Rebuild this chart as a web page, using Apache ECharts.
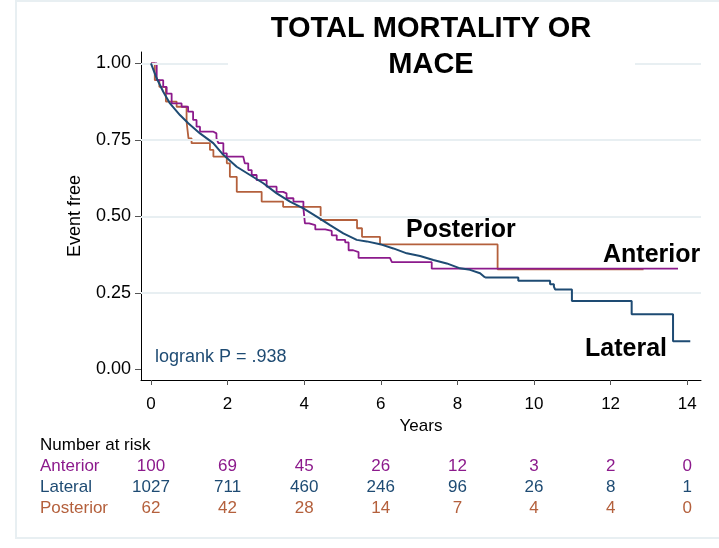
<!DOCTYPE html>
<html><head><meta charset="utf-8">
<script src="https://cdn.jsdelivr.net/npm/echarts@6/dist/echarts.min.js"></script>
<style>html,body{margin:0;padding:0;background:#fff}#c{width:719px;height:548px}</style>
</head><body><div id="c"></div>
<script>
// ---- data ----
const yearTicks = [0, 2, 4, 6, 8, 10, 12, 14];
const yTicks = [0, 0.25, 0.5, 0.75, 1];
const anterior = [[0,1],[0.15,0.945],[0.32,0.923],[0.41,0.901],[0.54,0.869],[0.80,0.858],[0.97,0.842],[1.10,0.815],[1.19,0.793],[1.28,0.777],[1.62,0.771],[1.71,0.755],[1.76,0.739],[1.89,0.706],[1.98,0.695],[2.41,0.690],[2.45,0.673],[2.54,0.651],[2.63,0.635],[2.76,0.618],[3.02,0.597],[3.28,0.580],[3.45,0.575],[3.54,0.559],[3.72,0.548],[3.98,0.526],[4.02,0.477],[4.13,0.471],[4.29,0.457],[4.55,0.452],[4.72,0.438],[4.85,0.423],[5.07,0.415],[5.16,0.389],[5.28,0.383],[5.42,0.364],[6.24,0.361],[6.29,0.350],[7.33,0.329],[13.76,0.329]];
const lateralEarly = [[0,1],[0.149,0.951],[0.321,0.907],[0.496,0.869],[0.757,0.831],[0.974,0.804],[1.28,0.771],[1.627,0.739],[1.888,0.701],[2.238,0.662],[2.586,0.635],[2.933,0.608],[3.283,0.575],[3.63,0.548],[3.978,0.526],[4.327,0.499],[4.675,0.471],[5.022,0.444],[5.372,0.423],[5.633,0.418],[5.981,0.409],[6.328,0.395],[6.678,0.379],[7.025,0.370],[7.373,0.357],[7.723,0.346],[8.07,0.330],[8.331,0.325],[8.592,0.314],[8.723,0.300]];
const lateralLate = [[8.723,0.300],[9.59,0.289],[10.42,0.278],[10.52,0.270],[10.55,0.261],[10.99,0.223],[12.55,0.180],[13.63,0.092],[14.08,0.092]];
const posterior = [[0,1],[0.10,0.945],[0.22,0.923],[0.39,0.875],[0.67,0.858],[0.93,0.809],[0.98,0.755],[1.06,0.739],[1.54,0.717],[1.63,0.695],[1.98,0.673],[2.06,0.629],[2.24,0.580],[2.89,0.548],[3.45,0.531],[4.43,0.488],[5.38,0.461],[5.51,0.433],[5.98,0.408],[9.05,0.327],[12.86,0.327]];
const riskGroups = ['Anterior', 'Lateral', 'Posterior'];
const riskAnterior = [100, 69, 45, 26, 12, 3, 2, 0];
const riskLateral = [1027, 711, 460, 246, 96, 26, 8, 1];
const riskPosterior = [62, 42, 28, 14, 7, 4, 4, 0];

// ---- styles ----
const FONT = '"Liberation Sans", Arial, sans-serif';
const C_ANT = '#8c1a8c', C_LAT = '#1e4b73', C_POS = '#b4603c';
const GRIDC = '#e8eff2';

const chart = echarts.init(document.getElementById('c'), null, {renderer: 'canvas'});
chart.setOption({
  animation: false,
  backgroundColor: '#fff',
  grid: {left: 141, right: 18, top: 52, bottom: 168, containLabel: false},
  xAxis: {
    type: 'value', min: -0.26, max: 14.36,
    name: 'Years', nameLocation: 'middle', nameGap: 33,
    nameTextStyle: {fontFamily: FONT, fontSize: 17, color: '#000'},
    axisLine: {show: true, onZero: false, lineStyle: {color: '#000', width: 1}},
    axisTick: {show: true, length: 5, lineStyle: {color: '#555'}, customValues: yearTicks},
    axisLabel: {fontFamily: FONT, fontSize: 17, color: '#000', margin: 16, customValues: yearTicks},
    splitLine: {show: false}
  },
  yAxis: {
    type: 'value', min: -0.035, max: 1.037,
    name: 'Event free', nameLocation: 'middle', nameGap: 57,
    nameTextStyle: {fontFamily: FONT, fontSize: 18, color: '#000'},
    axisLine: {show: true, onZero: false, lineStyle: {color: '#000', width: 1}},
    axisTick: {show: true, length: 6, lineStyle: {color: '#555'}, customValues: yTicks},
    axisLabel: {fontFamily: FONT, fontSize: 18, color: '#000', margin: 10, customValues: yTicks,
      formatter: v => v.toFixed(2)},
    splitLine: {show: false}
  },
  series: [
    {type: 'line', data: [], z: 1, silent: true,
     markLine: {silent: true, symbol: 'none', label: {show: false},
       lineStyle: {color: GRIDC, width: 2, type: 'solid'},
       data: yTicks.filter(v => v > 0).map(v => ({yAxis: v}))}},
    {name: 'Posterior', type: 'line', step: 'end', data: posterior, showSymbol: false, z: 3,
     lineStyle: {color: C_POS, width: 1.8}},
    {name: 'Anterior', type: 'line', step: 'end', data: anterior, showSymbol: false, z: 4,
     lineStyle: {color: C_ANT, width: 1.8}},
    {name: 'Lateral', type: 'line', data: lateralEarly, showSymbol: false, z: 5,
     lineStyle: {color: C_LAT, width: 2}},
    {name: 'Lateral', type: 'line', step: 'end', data: lateralLate, showSymbol: false, z: 5,
     lineStyle: {color: C_LAT, width: 2}}
  ]
});

// ---- graphics: title, labels and risk table ----
const px = v => chart.convertToPixel({xAxisIndex: 0}, v);
const g = [];
g.push({type: 'rect', silent: true, z: 0, shape: {x: 16, y: 1, width: 740, height: 537},
  style: {fill: 'none', stroke: GRIDC, lineWidth: 2}});
g.push({type: 'rect', silent: true, z: 50, shape: {x: 228, y: 5, width: 407, height: 80},
  style: {fill: '#fff'}});
const txt = (text, x, y, opts) => g.push(Object.assign({type: 'text', silent: true, z: 60, x: x, y: y,
  style: Object.assign({text: text, font: '17px ' + FONT, fill: '#000', textAlign: 'left', textVerticalAlign: 'middle'}, opts || {})}));
txt('TOTAL MORTALITY OR', 431, 29, {font: 'bold 29px ' + FONT, textAlign: 'center'});
txt('MACE', 431, 65, {font: 'bold 29px ' + FONT, textAlign: 'center'});
txt('Posterior', 406, 230, {font: 'bold 25px ' + FONT});
txt('Anterior', 603, 255, {font: 'bold 25px ' + FONT});
txt('Lateral', 585, 349, {font: 'bold 25px ' + FONT});
txt('logrank P = .938', 155, 357, {font: '18px ' + FONT, fill: C_LAT});
txt('Number at risk', 40, 445);
const rows = [riskAnterior, riskLateral, riskPosterior];
const cols = [C_ANT, C_LAT, C_POS];
rows.forEach((r, i) => {
  const y = 466 + i * 21;
  txt(riskGroups[i], 40, y, {fill: cols[i]});
  r.forEach((n, j) => txt(String(n), px(yearTicks[j]), y, {fill: cols[i], textAlign: 'center'}));
});
chart.setOption({graphic: g});
</script></body></html>
